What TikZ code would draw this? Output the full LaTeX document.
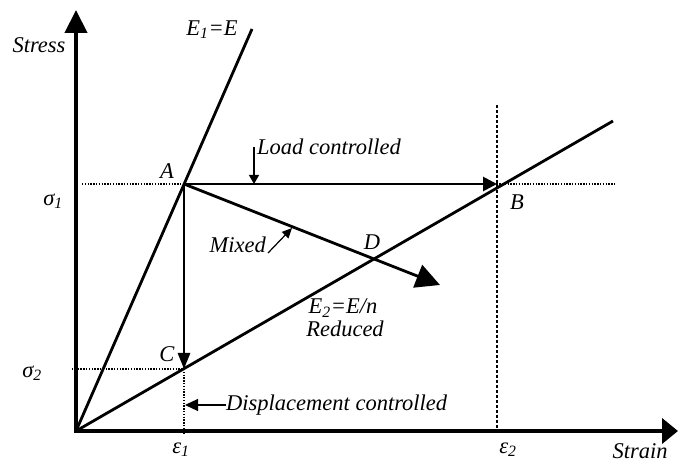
\documentclass[tikz,border=0pt]{standalone}
\usepackage{fontspec}
\setmainfont{Liberation Serif}
\usetikzlibrary{arrows.meta}
\begin{document}
\begin{tikzpicture}[x=1pt,y=-1pt,
  lbl/.style={font=\fontsize{22.5}{26}\selectfont\itshape, inner sep=0pt},
  axis/.style={line width=4.3pt},
  curve/.style={line width=2.8pt},
  path/.style={line width=2.8pt},
  guide/.style={line width=1.4pt, dash pattern=on 1.4pt off 1.4pt},
  guidethick/.style={line width=2.8pt, dash pattern=on 2.8pt off 2.2pt},
  pointer/.style={line width=1.2pt}
]
\useasboundingbox (0,0) rectangle (678,462);
% key points
\coordinate (O) at (76,431);
\coordinate (A) at (184,184);
\coordinate (B) at (497,184);
\coordinate (C) at (184,369);
\coordinate (D) at (373,258);
\coordinate (Ytop) at (76,10);
\coordinate (Xend) at (678,431);
\coordinate (E1end) at (252,29);
\coordinate (E2end) at (613,121);
\coordinate (Mend) at (440,285);
\coordinate (S1l) at (82,184);
\coordinate (S1r) at (615,184);
\coordinate (S2l) at (72,369);
\coordinate (Ep1b) at (184,434);
\coordinate (Ep2t) at (497,105);
\coordinate (Ep2b) at (497,431);
% dotted guides
\draw[guide] (S1l) -- (S1r);
\draw[guide] (S2l) -- (C);
\draw[guide] (C) -- (Ep1b);
\draw[guidethick] (Ep2t) -- (Ep2b);
% axes
\draw[axis,-{Triangle[length=23pt,width=22pt]}] (76,433) -- (Ytop);
\draw[axis,-{Triangle[length=16pt,width=25pt]}] (74,431) -- (Xend);
% stiffness lines
\draw[curve] (O) -- (E1end);
\draw[curve] (O) -- (E2end);
% load paths
\draw[path,-{Triangle[length=14pt,width=14pt]}] (A) -- (B);
\draw[path,-{Triangle[length=16pt,width=12pt]}] (A) -- (C);
\draw[path,-{Triangle[length=24pt,width=24pt]}] (A) -- (Mend);
% labels
\node[lbl] (stress) at (39,45) {Stress};
\node[lbl] (e1) at (212,30) {E\textsubscript{1}=E};
\node[lbl] (la) at (167,171) {A};
\node[lbl] (sig1) at (53,201) {σ\textsubscript{1}};
\node[lbl] (lb) at (517,202) {B};
\node[lbl] (ld) at (372,242) {D};
\node[lbl] (lc) at (167,354) {C};
\node[lbl] (sig2) at (32,373) {σ\textsubscript{2}};
\node[lbl] (eps1) at (181,450) {ε\textsubscript{1}};
\node[lbl] (eps2) at (508,450) {ε\textsubscript{2}};
\node[lbl] (strain) at (640,451) {Strain};
\node[lbl] (e2) at (343,308) {E\textsubscript{2}=E/n};
\node[lbl] (red) at (345,329) {Reduced};
\node[lbl,anchor=west] (load) at (257,147) {Load controlled};
\node[lbl,anchor=east] (mixed) at (266,245) {Mixed};
\node[lbl,anchor=west] (disp) at (226,405) {Displacement controlled};
% label pointers
\coordinate (Lp) at (254,184);
\coordinate (Lq) at (254,147);
\coordinate (Mp) at (268,253);
\coordinate (Mq) at (292,228);
\coordinate (Dp) at (185,405);
\draw[pointer,-{Triangle[length=9pt,width=10pt]}] (Lq) -- (Lp);
\draw[pointer,-{Triangle[length=10pt,width=9pt]}] (Mp) -- (Mq);
\draw[pointer,-{Triangle[length=13pt,width=12pt]}] (disp.west) -- (Dp);
\end{tikzpicture}
\end{document}
